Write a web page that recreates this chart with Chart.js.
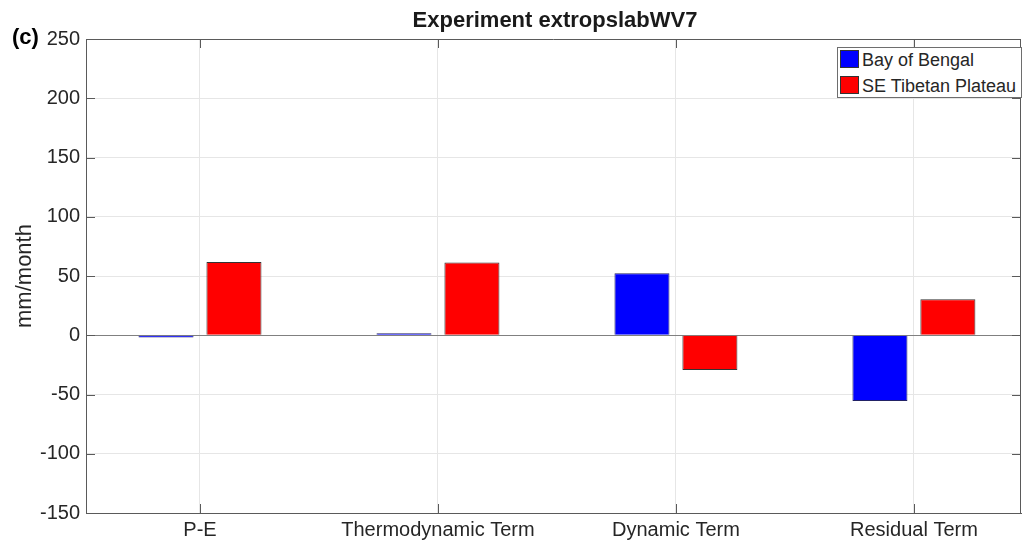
<!DOCTYPE html>
<html>
<head>
<meta charset="utf-8">
<script src="https://cdn.jsdelivr.net/npm/chart.js@4"></script>
<style>
  html, body { margin: 0; padding: 0; background: #fff; overflow: hidden; }
  #wrap { position: relative; width: 1022px; height: 545px; font-family: 'Liberation Sans', Arial, sans-serif; }
  #chart { position: absolute; left: 0; top: 0; }
  .lbl { position: absolute; color: #000; font-weight: bold; white-space: nowrap; }
  #legend { position: absolute; left: 837px; top: 47px; width: 183px; height: 49px;
            border: 1px solid #6e6e6e; background: #fff; font-size: 18px; color: #262626; }
  .item { position: absolute; left: 2px; height: 20px; line-height: 20px; white-space: nowrap; }
  .sw { display: inline-block; width: 19px; height: 18px; border: 1px solid #333; vertical-align: top; margin-right: 3px; box-sizing: border-box; }
</style>
</head>
<body>
<div id="wrap">
  <canvas id="chart" width="1022" height="545"></canvas>
  <div class="lbl" style="left:12px; top:24px; font-size:22px;">(c)</div>
  <div class="lbl" style="left:355px; width:400px; text-align:center; top:7px; font-size:22px; color:#1a1a1a;">Experiment extropslabWV7</div>
  <div id="legend">
    <div class="item" style="top:2px;"><span class="sw" style="background:#0000ff"></span>Bay of Bengal</div>
    <div class="item" style="top:28px;"><span class="sw" style="background:#ff0000"></span>SE Tibetan Plateau</div>
  </div>
</div>
<script>
// categories and values (mm/month)
var categories = ['P-E', 'Thermodynamic Term', 'Dynamic Term', 'Residual Term'];
var bayOfBengal = [-2, 1.7, 52.3, -55.4];
var seTibetanPlateau = [61.8, 61.4, -29.3, 30.3];
var yTicks = [-150, -100, -50, 0, 50, 100, 150, 200, 250];

function toPoints(arr) {
  return arr.map(function (v, i) { return { x: i + 1, y: v }; });
}

// MATLAB style box with inward ticks
var boxPlugin = {
  id: 'box',
  afterDraw: function (chart) {
    var c = chart.ctx, a = chart.chartArea;
    var xs = chart.scales.x, ys = chart.scales.y;
    c.save();
    c.strokeStyle = '#5a5a5a';
    c.lineWidth = 1;
    c.beginPath();
    c.moveTo(a.left, a.top + 0.5); c.lineTo(a.right, a.top + 0.5);
    c.moveTo(a.right - 0.5, a.top); c.lineTo(a.right - 0.5, a.bottom);
    yTicks.forEach(function (v) {
      var y = Math.round(ys.getPixelForValue(v)) + 0.5;
      c.moveTo(a.left, y); c.lineTo(a.left + 9, y);
      c.moveTo(a.right, y); c.lineTo(a.right - 9, y);
    });
    categories.forEach(function (_, i) {
      var x = Math.round(xs.getPixelForValue(i + 1)) + 0.5;
      c.moveTo(x, a.bottom); c.lineTo(x, a.bottom - 9);
      c.moveTo(x, a.top); c.lineTo(x, a.top + 9);
    });
    c.stroke();
    c.restore();
  }
};

var ctx = document.getElementById('chart').getContext('2d');
new Chart(ctx, {
  type: 'bar',
  data: {
    datasets: [
      {
        label: 'Bay of Bengal',
        data: toPoints(bayOfBengal),
        backgroundColor: '#0000ff',
        borderColor: '#222266',
        borderWidth: 1,
        categoryPercentage: 0.571,
        barPercentage: 0.81
      },
      {
        label: 'SE Tibetan Plateau',
        data: toPoints(seTibetanPlateau),
        backgroundColor: '#ff0000',
        borderColor: '#333333',
        borderWidth: 1,
        categoryPercentage: 0.571,
        barPercentage: 0.81
      }
    ]
  },
  options: {
    responsive: false,
    animation: false,
    layout: { padding: { left: 0, right: 1, top: 39, bottom: 0 } },
    plugins: {
      legend: { display: false },
      tooltip: { enabled: false },
      title: { display: false }
    },
    scales: {
      x: {
        type: 'linear',
        offset: false,
        min: 0.521,
        max: 4.45,
        afterBuildTicks: function (scale) {
          scale.ticks = categories.map(function (_, i) { return { value: i + 1 }; });
        },
        afterFit: function (scale) { scale.height = 32; },
        ticks: {
          color: '#262626',
          font: { family: "'Liberation Sans', Arial", size: 20 },
          padding: 5,
          maxRotation: 0,
          autoSkip: false,
          callback: function (v) { return categories[v - 1]; }
        },
        grid: { color: '#e6e6e6', drawTicks: false, offset: false },
        border: { display: true, color: '#5a5a5a', width: 1 }
      },
      y: {
        min: -150,
        max: 250,
        afterBuildTicks: function (scale) {
          scale.ticks = yTicks.map(function (v) { return { value: v }; });
        },
        afterFit: function (scale) { scale.width = 86; },
        title: {
          display: true,
          text: 'mm/month',
          color: '#262626',
          font: { family: "'Liberation Sans', Arial", size: 22 },
          padding: { top: 12, bottom: 0 }
        },
        ticks: {
          color: '#262626',
          font: { family: "'Liberation Sans', Arial", size: 20 },
          padding: 6
        },
        grid: {
          drawTicks: false,
          color: function (c) { return c.tick && c.tick.value === 0 ? '#808080' : '#e6e6e6'; }
        },
        border: { display: true, color: '#5a5a5a', width: 1 }
      }
    }
  },
  plugins: [boxPlugin]
});
</script>
</body>
</html>
